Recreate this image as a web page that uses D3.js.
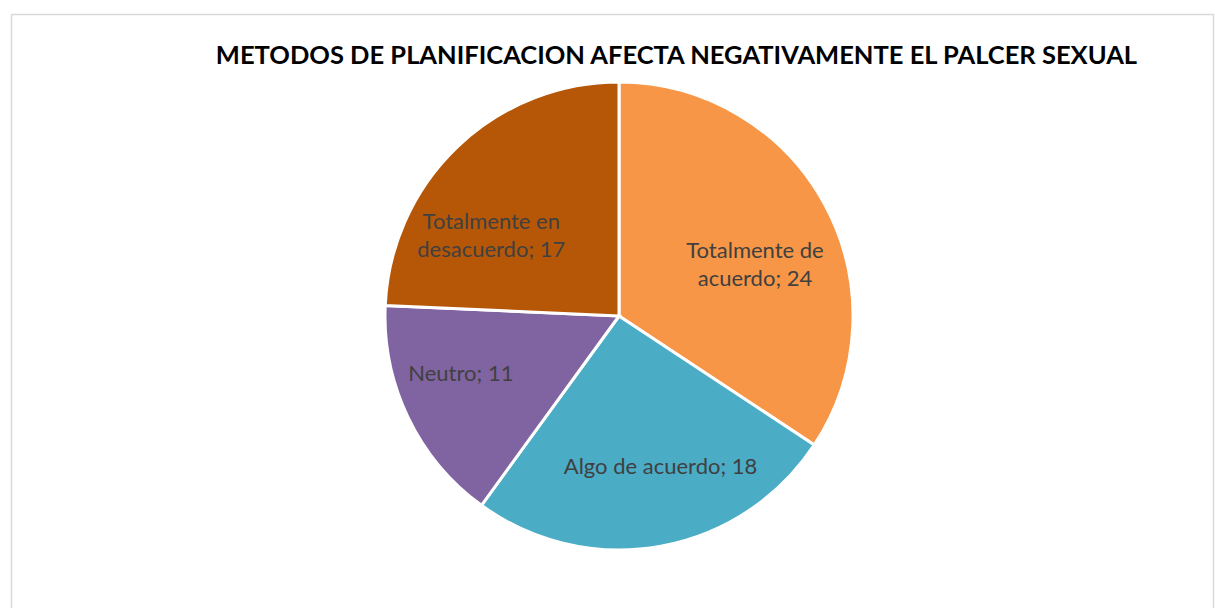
<!DOCTYPE html>
<html>
<head>
<meta charset="utf-8">
<script src="https://cdn.jsdelivr.net/npm/d3@7"></script>
<style>
  body { margin: 0; background: #fff; }
  svg { display: block; }
</style>
</head>
<body>
<div id="chart"></div>
<script>
// Chart data
const categories = ["Totalmente de acuerdo", "Algo de acuerdo", "Neutro", "Totalmente en desacuerdo"];
const values = [24, 18, 11, 17];
const colors = ["#F79646", "#4BACC6", "#8064A2", "#B65708"];
const labelLines = [["Totalmente de", "acuerdo; 24"], ["Algo de acuerdo; 18"], ["Neutro; 11"], ["Totalmente en", "desacuerdo; 17"]];
const title = "METODOS DE PLANIFICACION AFECTA NEGATIVAMENTE EL PALCER SEXUAL";

const width = 1215, height = 608;
const cx = 619, cy = 316, radius = 234;

// small shifts from the centroid, like Excel's "best fit" labels
const labelNudge = [[0, 21], [14, -2], [-19, -10], [-21, 31]];

const svg = d3.select("#chart").append("svg")
    .attr("width", width)
    .attr("height", height);

// chart frame
svg.append("rect")
    .attr("x", 11.5)
    .attr("y", 14.5)
    .attr("width", 1202)
    .attr("height", 620)
    .attr("fill", "#fff")
    .attr("stroke", "#d9d9d9")
    .attr("stroke-width", 1.5);

svg.append("text")
    .attr("x", 676.5)
    .attr("y", 63.5)
    .attr("text-anchor", "middle")
    .attr("font-family", "Lato, 'Open Sans', sans-serif")
    .attr("font-weight", "bold")
    .attr("font-size", 25.5)
    .attr("fill", "#000")
    .text(title);

const pie = d3.pie().sort(null).value(d => d.value);
const arc = d3.arc().innerRadius(0).outerRadius(radius);
const labelArc = d3.arc().innerRadius(radius * 0.66).outerRadius(radius * 0.66);

const data = categories.map((c, i) => ({ name: c, value: values[i], color: colors[i], lines: labelLines[i] }));

const g = svg.append("g").attr("transform", `translate(${cx}, ${cy})`);

const slices = g.selectAll(".slice")
    .data(pie(data))
    .enter().append("g")
    .attr("class", "slice");

slices.append("path")
    .attr("d", arc)
    .attr("fill", d => d.data.color)
    .attr("stroke", "#fff")
    .attr("stroke-width", 3);

const lineH = 28;
slices.append("text")
    .attr("transform", (d, i) => {
        const [x, y] = labelArc.centroid(d);
        return `translate(${x + labelNudge[i][0]}, ${y + labelNudge[i][1]})`;
    })
    .attr("text-anchor", "middle")
    .attr("font-family", "Lato, 'Open Sans', sans-serif")
    .attr("font-size", 22)
    .attr("fill", "#404040")
    .each(function (d) {
        const t = d3.select(this);
        const n = d.data.lines.length;
        d.data.lines.forEach((line, i) => {
            t.append("tspan")
                .attr("x", 0)
                .attr("y", (i - (n - 1) / 2) * lineH + 8)
                .text(line);
        });
    });
</script>
</body>
</html>
